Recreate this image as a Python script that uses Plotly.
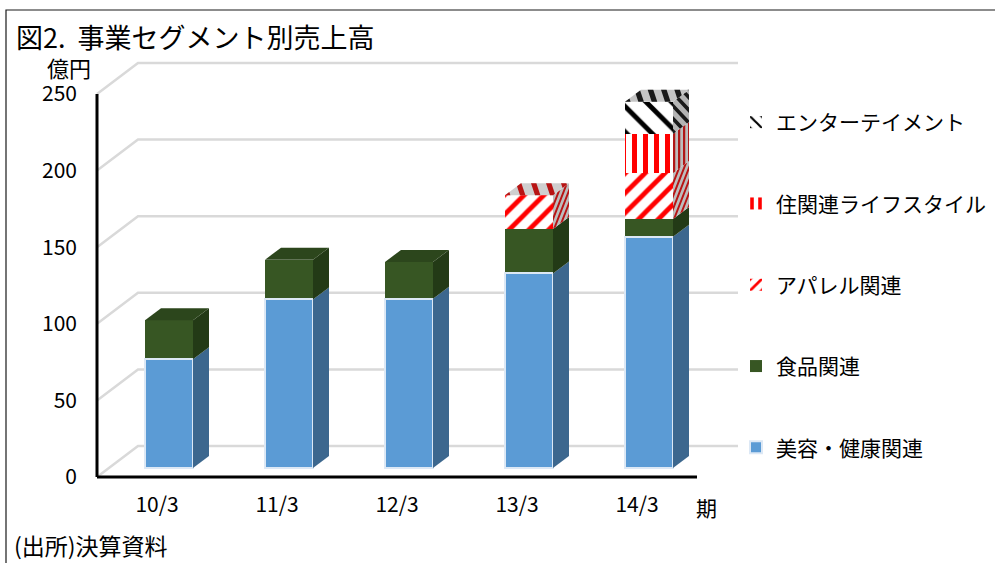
import plotly.graph_objects as go

# ---- data (億円) ----
categories = ["10/3", "11/3", "12/3", "13/3", "14/3"]
beauty = [71, 110, 110.5, 127, 151]
food = [25.5, 26, 24, 29, 11.5]
apparel = [0, 0, 0, 22, 30]
housing = [0, 0, 0, 0, 25.5]
entertainment = [0, 0, 0, 0, 21]
y_ticks = [0, 50, 100, 150, 200, 250]

FONT = "Noto Sans CJK JP"
W, H = 995, 563
L, R, T, B = 90, 250, 55, 80
ZERO_X, ZERO_Y = 157, 477   # px of first category / of value 0
PX_X = 120.0           # px per category
PX_Y = 1.532           # px per value unit


def dx(px):
    return px / PX_X


def dv(px):
    return px / PX_Y


def paper_x(px):
    return (px - L) / (W - L - R)


def paper_y(px):
    return (H - B - px) / (H - B - T)


series = [
    dict(name="美容・健康関連", vals=beauty, color="#5B9BD5", side="#3C678E", top="#4a80b0",
         line=dict(color="#DCE8F5", width=2)),
    dict(name="食品関連", vals=food, color="#375623", side="#233A16", top="#2C461C",
         line=dict(width=0)),
    dict(name="アパレル関連", vals=apparel, color="#FFFFFF", side="#BDBDBD", top="#CFCFCF",
         line=dict(width=0),
         pattern=dict(shape="/", fgcolor="#FF0000", bgcolor="#FFFFFF", size=14, solidity=0.34, fgopacity=1),
         stripe="#B81414", side_band=(1.0, -0.55, 7.0, 0.42), top_band=(0.6, 1.0, 9.0, 0.36)),
    dict(name="住関連ライフスタイル", vals=housing, color="#FFFFFF", side="#BDBDBD", top="#CFCFCF",
         line=dict(width=0),
         pattern=dict(shape="|", fgcolor="#FF0000", bgcolor="#FFFFFF", size=11, solidity=0.45, fgopacity=1),
         stripe="#B01818", side_band=(1.0, 0.0, 5.0, 0.45), top_band=(1.0, 0.0, 11.0, 0.45)),
    dict(name="エンターテイメント", vals=entertainment, color="#FFFFFF", side="#B4B4B4", top="#C4C4C4",
         line=dict(width=0),
         pattern=dict(shape="\\", fgcolor="#000000", bgcolor="#FFFFFF", size=18, solidity=0.27, fgopacity=1),
         stripe="#1A1A1A", side_band=(1.0, 0.55, 7.0, 0.42), top_band=(0.6, 1.0, 8.0, 0.42)),
]

# 3-D projection, in px
BAR_W = 48
FRONT_DX, FRONT_DY = 12, 9      # bar front relative to the floor's front edge
SIDE_DX, SIDE_DY = 16, 12       # bar depth
WALL_DX, WALL_DY = 41, 31       # back wall relative to axis


def clip(poly, a, b, c, keep_ge=True):
    """Clip polygon by half-plane a*u+b*v >= c (or <= c)."""
    out = []
    sign = 1 if keep_ge else -1
    n = len(poly)
    for i in range(n):
        p, q = poly[i], poly[(i + 1) % n]
        fp = sign * (a * p[0] + b * p[1] - c)
        fq = sign * (a * q[0] + b * q[1] - c)
        if fp >= 0:
            out.append(p)
        if fp * fq < 0:
            t = fp / (fp - fq)
            out.append((p[0] + t * (q[0] - p[0]), p[1] + t * (q[1] - p[1])))
    return out


def stripes(width, height, band):
    a, b, period, solid = band
    rect = [(0, 0), (width, 0), (width, height), (0, height)]
    vals = [a * u + b * v for u, v in rect]
    polys = []
    c = int(min(vals) // period) * period
    while c < max(vals):
        p = clip(rect, a, b, c, True)
        if p:
            p = clip(p, a, b, c + period * solid, False)
        if len(p) >= 3:
            polys.append(p)
        c += period
    return polys


def add_face(fig, origin, eu, ev, width, height, color, name, stripe=None, band=None):
    """Parallelogram: origin (data) + u*eu + v*ev, u,v in px along each edge."""
    def mapped(p):
        return (origin[0] + p[0] * eu[0] + p[1] * ev[0],
                origin[1] + p[0] * eu[1] + p[1] * ev[1])

    outline = [mapped(p) for p in [(0, 0), (width, 0), (width, height), (0, height), (0, 0)]]
    fig.add_trace(go.Scatter(x=[p[0] for p in outline], y=[p[1] for p in outline], mode="lines",
                             fill="toself", fillcolor=color, line=dict(width=0), hoverinfo="skip",
                             showlegend=False, legendgroup=name, cliponaxis=False))
    if stripe and height > 0:
        xs, ys = [], []
        for poly in stripes(width, height, band):
            m = [mapped(p) for p in poly + [poly[0]]]
            xs += [p[0] for p in m] + [None]
            ys += [p[1] for p in m] + [None]
        fig.add_trace(go.Scatter(x=xs, y=ys, mode="lines", fill="toself", fillcolor=stripe,
                                 line=dict(width=0), hoverinfo="skip", showlegend=False,
                                 legendgroup=name, cliponaxis=False))


fig = go.Figure()
idx = list(range(len(categories)))
base_off = dv(FRONT_DY)
left_off = dx(FRONT_DX) - dx(BAR_W) / 2

# cumulative bases
running = [base_off] * len(categories)
bases = []
for s in series:
    bases.append(list(running))
    running = [r + v for r, v in zip(running, s["vals"])]

# front faces (added top-of-stack first so that the legend lists them in that order)
for j in reversed(range(len(series))):
    s = series[j]
    marker = dict(color=s["color"], line=s["line"])
    if "pattern" in s:
        marker["pattern"] = s["pattern"]
    fig.add_trace(go.Bar(x=[i + dx(FRONT_DX) for i in idx], y=s["vals"], base=bases[j],
                         width=dx(BAR_W), name=s["name"], legendgroup=s["name"], marker=marker,
                         cliponaxis=False))

# side and top faces
for i in idx:
    top_j = max(j for j, s in enumerate(series) if s["vals"][i] > 0)
    for j, s in enumerate(series):
        v = s["vals"][i]
        if v <= 0:
            continue
        x_right = i + left_off + dx(BAR_W)
        add_face(fig, (x_right, bases[j][i]), (dx(1), dv(SIDE_DY / SIDE_DX)), (0, dv(1)),
                 SIDE_DX, v * PX_Y, s["side"], s["name"], s.get("stripe"), s.get("side_band"))
        if j == top_j:
            add_face(fig, (i + left_off, bases[j][i] + v), (dx(1), 0),
                     (dx(SIDE_DX / SIDE_DY), dv(1)), BAR_W, SIDE_DY, s["top"], s["name"],
                     s.get("stripe"), s.get("top_band"))

# axis lines
fig.add_trace(go.Scatter(x=[-0.5, -0.5], y=[0, y_ticks[-1]], mode="lines", showlegend=False,
                         line=dict(color="#000000", width=3), hoverinfo="skip", cliponaxis=False))
fig.add_trace(go.Scatter(x=[-0.5, len(categories) - 0.5], y=[0, 0], mode="lines", showlegend=False,
                         line=dict(color="#000000", width=3), hoverinfo="skip", cliponaxis=False))

# perspective gridlines, below the bars
shapes = []
x0 = -0.5
x1 = x0 + dx(WALL_DX)
x2 = x1 + len(categories) * 1.0
for t in y_ticks:
    yb = t + dv(WALL_DY)
    shapes.append(dict(type="path", xref="x", yref="y", layer="below",
                       path=f"M {x0} {t} L {x1} {yb} L {x2} {yb}",
                       line=dict(color="#D9D9D9", width=2.5), fillcolor="rgba(0,0,0,0)"))

# chart frame
shapes.append(dict(type="rect", xref="paper", yref="paper", layer="below",
                   x0=paper_x(6), x1=paper_x(996), y0=paper_y(10), y1=paper_y(566),
                   line=dict(color="#1a1a1a", width=1.2), fillcolor="rgba(0,0,0,0)"))


def note(text, px, py, size, anchor="left"):
    return dict(text=text, xref="paper", yref="paper", x=paper_x(px), y=paper_y(py),
                xanchor=anchor, yanchor="middle", showarrow=False,
                font=dict(family=FONT, size=size, color="#000000"))


annotations = [
    note("図2.  事業セグメント別売上高", 14, 36, 27),
    note("億円", 45, 67, 22),
    note("期", 694, 507, 21),
    note("(出所)決算資料", 12, 545, 23),
]

fig.update_layout(
    width=W, height=H, autosize=False,
    margin=dict(l=L, r=R, t=T, b=B, autoexpand=False, pad=0),
    paper_bgcolor="#FFFFFF", plot_bgcolor="#FFFFFF",
    barmode="overlay", bargap=0,
    font=dict(family=FONT, size=20, color="#000000"),
    xaxis=dict(range=[(L - ZERO_X) / PX_X, (W - R - ZERO_X) / PX_X], tickmode="array", tickvals=idx,
               ticktext=categories, showgrid=False, zeroline=False, showline=False, ticks="",
               ticklabelstandoff=7, tickfont=dict(family=FONT, size=21)),
    yaxis=dict(range=[(ZERO_Y - (H - B)) / PX_Y, (ZERO_Y - T) / PX_Y], tickmode="array", tickvals=y_ticks,
               showgrid=False, zeroline=False, showline=False, ticks="",
               ticklabelstandoff=12, tickfont=dict(family=FONT, size=21)),
    legend=dict(x=paper_x(736), y=paper_y(102), xanchor="left", yanchor="top",
                traceorder="grouped", tracegroupgap=51,
                bgcolor="rgba(0,0,0,0)", font=dict(family=FONT, size=21, color="#000000")),
    shapes=shapes, annotations=annotations,
    showlegend=True,
)

fig.write_html("out.html", config=dict(displayModeBar=False),
               post_script="document.body.style.margin='0';")
